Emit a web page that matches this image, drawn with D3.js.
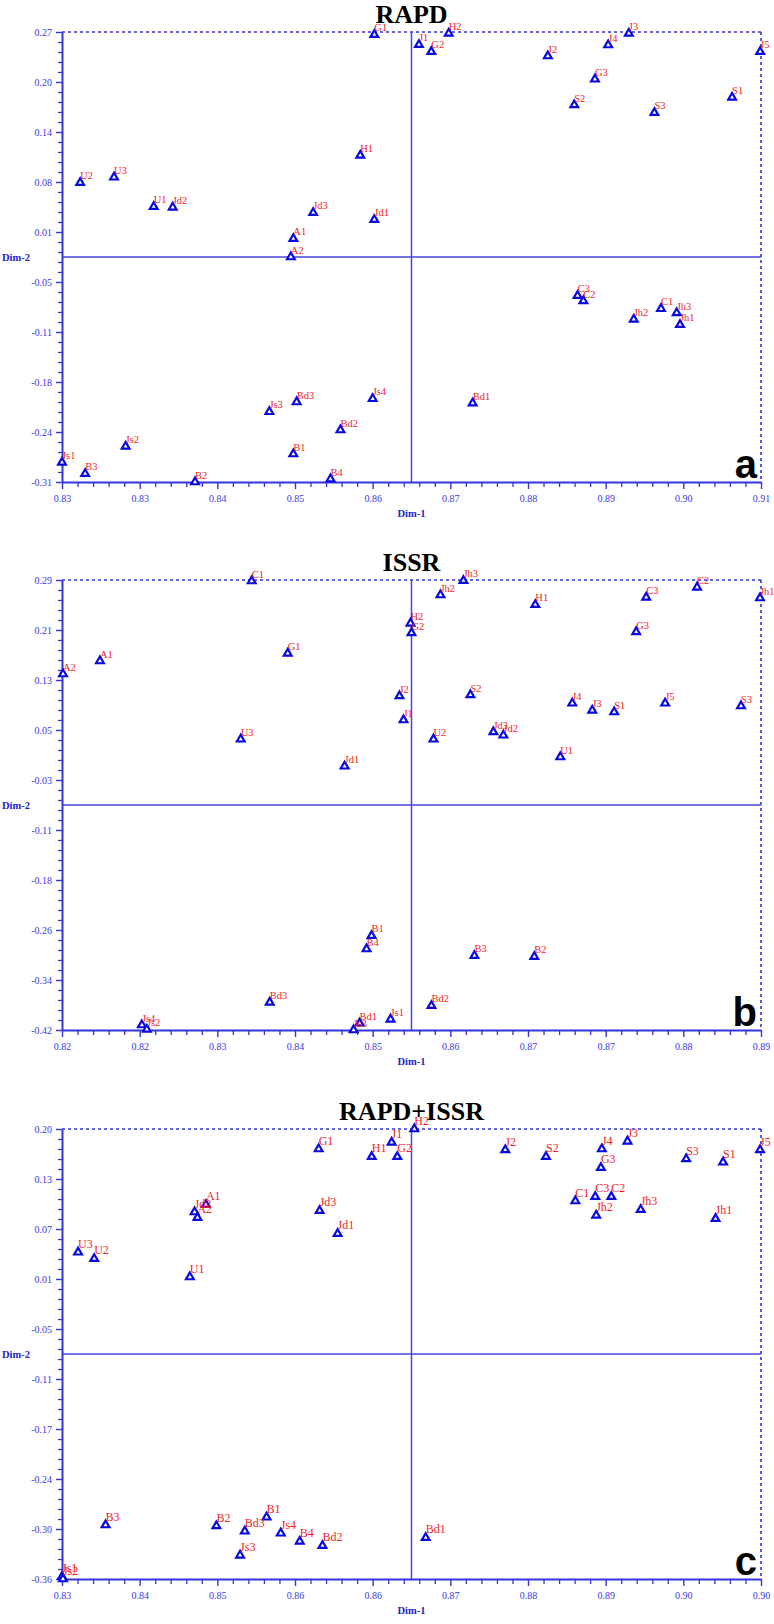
<!DOCTYPE html>
<html><head><meta charset="utf-8">
<script src="https://cdn.jsdelivr.net/npm/d3@7"></script>
<style>
html,body{margin:0;padding:0;background:#fff;}
svg{display:block;}
</style></head>
<body>
<svg id="chart" width="774" height="1624"></svg>
<script>
// ---------- Panel a : RAPD ----------
const rapdNames = ["U2","U3","U1","Jd2","A1","Jd3","H1","Jd1","G1","A2","J1","G2","H2","J2","J4","J3","G3","S2","S3","S1","J5","Js1","B3","Js2","B2","Js3","Bd3","B1","Bd2","B4","Js4","Bd1","C3","C2","Jh2","C1","Jh3","Jh1"];
const rapdDim1 = [0.8276,0.8317,0.8365,0.8388,0.8534,0.8558,0.8615,0.8632,0.8632,0.8531,0.8686,0.8701,0.8722,0.8842,0.8915,0.8940,0.8899,0.8874,0.8971,0.9065,0.9099,0.8254,0.8282,0.8331,0.8415,0.8505,0.8538,0.8534,0.8591,0.8579,0.8630,0.8751,0.8878,0.8885,0.8946,0.8979,0.8998,0.9002];
const rapdDim2 = [0.0758,0.0827,0.0452,0.0444,0.0043,0.0375,0.1107,0.0286,0.2646,-0.0190,0.2518,0.2429,0.2663,0.2374,0.2514,0.2663,0.2077,0.1749,0.1651,0.1847,0.2429,-0.2809,-0.2954,-0.2605,-0.3060,-0.2164,-0.2040,-0.2703,-0.2397,-0.3022,-0.1998,-0.2053,-0.0684,-0.0751,-0.0985,-0.0850,-0.0904,-0.1054];
const rapdXTicks = ["0.83","0.83","0.84","0.85","0.86","0.87","0.88","0.89","0.90","0.91"];
const rapdYTicks = ["-0.31","-0.24","-0.18","-0.11","-0.05","0.01","0.08","0.14","0.20","0.27"];
const rapdXDomain = [0.8254, 0.9100];
const rapdYDomain = [-0.306, 0.268];

// ---------- Panel b : ISSR ----------
const issrNames = ["C1","A2","A1","G1","U3","Jd1","Jh3","Jh2","H1","C3","C2","Jh1","H2","G2","G3","J2","S2","J4","J3","S1","J5","S3","J1","U2","Jd3","Jd2","U1","B1","B4","Bd3","Js4","Js2","Js3","Bd1","Js1","Bd2","B3","B2"];
const issrDim1 = [0.8390,0.8201,0.8238,0.8426,0.8379,0.8483,0.8602,0.8579,0.8674,0.8785,0.8836,0.8899,0.8549,0.8550,0.8775,0.8538,0.8609,0.8711,0.8731,0.8753,0.8804,0.8880,0.8542,0.8572,0.8632,0.8642,0.8699,0.8510,0.8505,0.8408,0.8280,0.8285,0.8492,0.8498,0.8529,0.8570,0.8613,0.8673];
const issrDim2 = [0.2884,0.1417,0.1622,0.1743,0.0387,-0.0039,0.2889,0.2663,0.2510,0.2627,0.2785,0.2616,0.2217,0.2064,0.2080,0.1070,0.1086,0.0955,0.0844,0.0817,0.0955,0.0912,0.0691,0.0387,0.0502,0.0450,0.0107,-0.2712,-0.2922,-0.3763,-0.4121,-0.4189,-0.4200,-0.4094,-0.4031,-0.3817,-0.3028,-0.3044];
const issrXTicks = ["0.82","0.82","0.83","0.84","0.85","0.86","0.87","0.87","0.88","0.89"];
const issrYTicks = ["-0.42","-0.34","-0.26","-0.18","-0.11","-0.03","0.05","0.13","0.21","0.29"];
const issrXDomain = [0.82, 0.89];
const issrYDomain = [-0.42, 0.29];

// ---------- Panel c : RAPD+ISSR ----------
const bothNames = ["G1","H1","J1","G2","H2","Jd2","A2","A1","Jd3","Jd1","U3","U2","U1","J2","S2","J4","J3","G3","S3","S1","J5","C1","C3","C2","Jh2","Jh3","Jh1","B3","B2","Bd3","B1","Js4","B4","Bd2","Js3","Bd1","Js1","Js2"];
const bothDim1 = [0.8566,0.8622,0.8643,0.8649,0.8667,0.8435,0.8438,0.8447,0.8567,0.8586,0.8312,0.8329,0.8430,0.8763,0.8806,0.8865,0.8892,0.8864,0.8954,0.8993,0.9032,0.8837,0.8858,0.8875,0.8859,0.8906,0.8985,0.8341,0.8458,0.8488,0.8511,0.8526,0.8546,0.8570,0.8483,0.8679,0.8295,0.8296];
const bothDim2 = [0.1751,0.1655,0.1834,0.1655,0.2000,0.0967,0.0896,0.1058,0.0983,0.0697,0.0466,0.0386,0.0158,0.1739,0.1655,0.1751,0.1847,0.1518,0.1627,0.1586,0.1739,0.1104,0.1158,0.1158,0.0926,0.0996,0.0884,-0.2928,-0.2940,-0.3006,-0.2832,-0.3031,-0.3131,-0.3185,-0.3305,-0.3086,-0.3571,-0.3600];
const bothXTicks = ["0.83","0.84","0.85","0.86","0.86","0.87","0.88","0.89","0.90","0.90"];
const bothYTicks = ["-0.36","-0.30","-0.24","-0.17","-0.11","-0.05","0.01","0.07","0.13","0.20"];
const bothXDomain = [0.8295, 0.9033];
const bothYDomain = [-0.36, 0.20];

const panels = [
  {title:"RAPD", letter:"a", names:rapdNames, xs:rapdDim1, ys:rapdDim2, xt:rapdXTicks, yt:rapdYTicks, xd:rapdXDomain, yd:rapdYDomain, top:32, bottom:482, fs:10.5, ly:3.4},
  {title:"ISSR", letter:"b", names:issrNames, xs:issrDim1, ys:issrDim2, xt:issrXTicks, yt:issrYTicks, xd:issrXDomain, yd:issrYDomain, top:580, bottom:1030, fs:10.5, ly:3.4},
  {title:"RAPD+ISSR", letter:"c", names:bothNames, xs:bothDim1, ys:bothDim2, xt:bothXTicks, yt:bothYTicks, xd:bothXDomain, yd:bothYDomain, top:1129, bottom:1579, fs:12, ly:4.4}
];

const L = 62, R = 761;
const axisBlue = "#3535dc", labelBlue = "#3a3ae6", markBlue = "#0808e0", red = "#f21d1d";
const svg = d3.select("#chart");

panels.forEach(p => {
  const x = d3.scaleLinear().domain(p.xd).range([L, R]);
  const y = d3.scaleLinear().domain(p.yd).range([p.bottom, p.top]);
  const g = svg.append("g");

  const xMaj = d3.range(10).map(i => p.xd[0] + i*(p.xd[1]-p.xd[0])/9);
  const yMaj = d3.range(10).map(i => p.yd[0] + i*(p.yd[1]-p.yd[0])/9);
  const xMin = d3.range(46).map(i => p.xd[0] + i*(p.xd[1]-p.xd[0])/45).filter((d,i)=>i%5!==0);
  const yMin = d3.range(46).map(i => p.yd[0] + i*(p.yd[1]-p.yd[0])/45).filter((d,i)=>i%5!==0);

  // border (dotted top & right)
  g.append("line").attr("x1",L).attr("x2",R).attr("y1",p.top).attr("y2",p.top)
    .attr("stroke",axisBlue).attr("stroke-width",1.6).attr("stroke-dasharray","3,3");
  g.append("line").attr("x1",R).attr("x2",R).attr("y1",p.top).attr("y2",p.bottom)
    .attr("stroke",axisBlue).attr("stroke-width",1.6).attr("stroke-dasharray","3,3");

  // centre cross lines
  const xm = (p.xd[0]+p.xd[1])/2, ym = (p.yd[0]+p.yd[1])/2;
  g.append("line").attr("x1",x(xm)).attr("x2",x(xm)).attr("y1",p.top).attr("y2",p.bottom)
    .attr("stroke","#4646dc").attr("stroke-width",1.5);
  g.append("line").attr("x1",L).attr("x2",R).attr("y1",y(ym)).attr("y2",y(ym))
    .attr("stroke","#4646dc").attr("stroke-width",1.5);

  // minor ticks
  const xMinor = g.append("g").attr("transform",`translate(0,${p.bottom})`)
    .call(d3.axisBottom(x).tickValues(xMin).tickFormat("").tickSize(5).tickSizeOuter(0));
  const yMinor = g.append("g").attr("transform",`translate(${L},0)`)
    .call(d3.axisLeft(y).tickValues(yMin).tickFormat("").tickSize(4).tickSizeOuter(0));
  [xMinor,yMinor].forEach(a => { a.select(".domain").remove(); a.selectAll("line").attr("stroke",axisBlue).attr("stroke-width",1.3); });

  // major axes
  const xAx = g.append("g").attr("transform",`translate(0,${p.bottom})`)
    .call(d3.axisBottom(x).tickValues(xMaj).tickFormat((d,i)=>p.xt[i]).tickSize(7).tickPadding(6).tickSizeOuter(0));
  const yAx = g.append("g").attr("transform",`translate(${L},0)`)
    .call(d3.axisLeft(y).tickValues(yMaj).tickFormat((d,i)=>p.yt[i]).tickSize(6).tickPadding(4).tickSizeOuter(0));
  [xAx,yAx].forEach(a => {
    a.select(".domain").attr("stroke",axisBlue).attr("stroke-width",2);
    a.selectAll("line").attr("stroke",axisBlue).attr("stroke-width",1.4);
    a.selectAll("text").attr("fill",labelBlue).attr("font-family","Liberation Serif, serif").attr("font-size",10);
  });

  // axis titles
  g.append("text").attr("x",(L+R)/2).attr("y",p.bottom+35).attr("text-anchor","middle")
    .attr("font-family","Liberation Serif, serif").attr("font-weight","bold").attr("font-size",10.5)
    .attr("fill","#2424c8").text("Dim-1");
  g.append("text").attr("x",2).attr("y",y(ym)+4)
    .attr("font-family","Liberation Serif, serif").attr("font-weight","bold").attr("font-size",10.5)
    .attr("fill","#2424c8").text("Dim-2");

  // title
  g.append("text").attr("x",(L+R)/2).attr("y",p.top-9).attr("text-anchor","middle")
    .attr("font-family","Liberation Serif, serif").attr("font-weight","bold").attr("font-size",26)
    .attr("fill","#000").text(p.title);

  // panel letter
  g.append("text").attr("x",R-4).attr("y",p.bottom-4).attr("text-anchor","end")
    .attr("font-family","Liberation Sans, Arial, sans-serif").attr("font-weight","bold").attr("font-size",40)
    .attr("fill","#000").text(p.letter);

  // points
  const pts = p.names.map((n,i)=>({n, dx:p.xs[i], dy:p.ys[i]}));
  const tri = d3.symbol().type(d3.symbolTriangle).size(26);
  g.append("g").selectAll("path").data(pts).join("path")
    .attr("d",tri).attr("transform",d=>`translate(${x(d.dx)},${y(d.dy)})`)
    .attr("fill","#fff").attr("stroke",markBlue).attr("stroke-width",2.2);
  g.append("g").selectAll("text").data(pts).join("text")
    .attr("x",d=>x(d.dx)).attr("y",d=>y(d.dy)-p.ly)
    .attr("font-family","Liberation Serif, serif").attr("font-size",p.fs)
    .attr("fill",red).text(d=>d.n);
});
</script>
</body></html>
